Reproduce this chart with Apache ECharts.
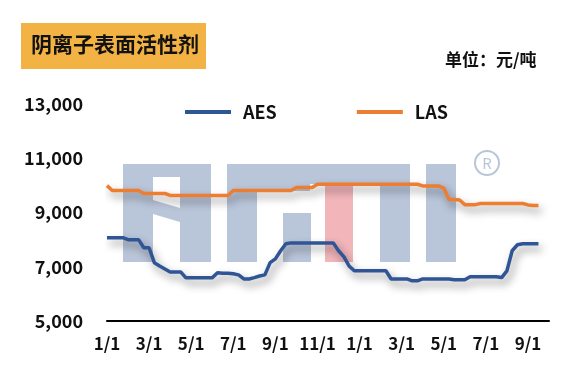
<!DOCTYPE html>
<html><head><meta charset="utf-8">
<script src="https://cdn.jsdelivr.net/npm/echarts@6/dist/echarts.min.js"></script>
<style>html,body{margin:0;padding:0;background:#fff}#c{width:571px;height:369px}</style>
</head><body><div id="c"></div>
<script>
var title = '阴离子表面活性剂';
var unitText = '单位：元/吨';
var seriesNames = ['AES', 'LAS'];
var yTicks = [5000, 7000, 9000, 11000, 13000];
var categories = [
 '1/1','1/8','1/15','1/22','2/1','2/8','2/15','2/22','3/1','3/8','3/15','3/22',
 '4/1','4/8','4/15','4/22','5/1','5/8','5/15','5/22','6/1','6/8','6/15','6/22',
 '7/1','7/8','7/15','7/22','8/1','8/8','8/15','8/22','9/1','9/8','9/15','9/22',
 '10/1','10/8','10/15','10/22','11/1','11/8','11/15','11/22','12/1','12/8','12/15','12/22',
 '1/1','1/8','1/15','1/22','2/1','2/8','2/15','2/22','3/1','3/8','3/15','3/22',
 '4/1','4/8','4/15','4/22','5/1','5/8','5/15','5/22','6/1','6/8','6/15','6/22',
 '7/1','7/8','7/15','7/22','8/1','8/8','8/15','8/22','9/1','9/8','9/15','9/22','10/1'
];
var aes = [
 8070,8070,8070,8070, 8000,8000,8000, 7700,7700, 7150, 7030, 6920,
 6810,6810,6810, 6590,6590,6590,6590,6590,6590, 6780, 6760,6760,6740,6700,
 6550,6550, 6600, 6660, 6700, 7150, 7290, 7590, 7850,
 7880,7880,7880,7880,7880,7880,7880,7880,7880,
 7590, 7370, 7030, 6850,6850,6850,6850,6850,6850,6850,
 6550,6550,6550,6550, 6480,6480, 6550,6550,6550,6550,6550,6550,
 6520,6520,6520, 6630,6630,6630,6630,6630,6630, 6600, 6850, 7590, 7810,
 7850,7850,7850,7850
];
var las = [
 9990, 9810,9810,9810,9810,9810,9810, 9700,9700,9700,9700,9700,
 9630,9630,9630,9630,9630,9630,9630,9630,9630,9630,9630,9630,
 9810,9810,9810,9810,9810,9810,9810,9810,9810,9810,9810,9810,
 9920,9920,9920,9920,
 10040,10040,10040,10040,10040,10040,10040,10040,10040,10040,
 10040,10040,10040,10040,10040,10040,10040,10040,10040,10040,
 9980,9980,9980,9980, 9900, 9480,9480, 9460, 9290,9290,9290,
 9330,9330,9330,9330,9330,9330,9330,9330,9330, 9280, 9260,9260
];

var chart = echarts.init(document.getElementById('c'), null, {renderer:'canvas'});
var wm = '#b9c5d9';
var FONT = '"Noto Sans CJK SC", "Noto Sans", sans-serif';
var shadow = {shadowColor:'rgba(0,0,0,0.45)', shadowBlur:8, shadowOffsetX:3, shadowOffsetY:5};
chart.setOption({
  animation:false,
  backgroundColor:'#fff',
  graphic:[
    {type:'rect', left:21, top:23, shape:{width:185, height:46}, style:{fill:'#f2b244'}, z:1},
    {type:'text', left:31, top:34, style:{text:title, font:'bold 21px '+FONT, fill:'#111'}, z:2},
    {type:'text', left:445, top:51, style:{text:unitText, font:'bold 17px '+FONT, fill:'#111'}, z:2},
    {type:'group', z:-10, silent:true, children:[
      {type:'rect', shape:{x:123,y:164,width:30,height:98}, style:{fill:wm}},
      {type:'rect', shape:{x:180,y:164,width:31,height:98}, style:{fill:wm}},
      {type:'rect', shape:{x:153,y:164,width:27,height:13}, style:{fill:wm}},
      {type:'polygon', shape:{points:[[153,200],[180,208],[180,222],[153,214]]}, style:{fill:wm}},
      {type:'rect', shape:{x:227,y:164,width:30,height:98}, style:{fill:wm}},
      {type:'rect', shape:{x:257,y:164,width:53,height:27}, style:{fill:wm}},
      {type:'rect', shape:{x:283,y:213,width:28,height:49}, style:{fill:wm}},
      {type:'rect', shape:{x:306,y:164,width:104,height:20}, style:{fill:wm}},
      {type:'rect', shape:{x:325,y:184,width:28,height:78}, style:{fill:'#f1b5ba'}},
      {type:'rect', shape:{x:380,y:184,width:30,height:78}, style:{fill:wm}},
      {type:'rect', shape:{x:426,y:164,width:30,height:98}, style:{fill:wm}},
      {type:'circle', shape:{cx:487,cy:163,r:12}, style:{fill:'none', stroke:wm, lineWidth:2}},
      {type:'text', style:{x:487, y:163, text:'R', font:'15px '+FONT, fill:wm, align:'center', verticalAlign:'middle'}}
    ]}
  ],
  legend:{
    data:seriesNames, left:180, top:98, itemWidth:46, itemHeight:4, itemGap:80,
    icon:'rect',
    textStyle:{fontWeight:'bold', fontSize:18, fontFamily:FONT, color:'#111', padding:[0,0,0,7]}
  },
  grid:{left:107, right:22, top:104, bottom:48, containLabel:false},
  xAxis:{
    type:'category', data:categories, boundaryGap:false,
    axisLine:{lineStyle:{color:'#000', width:2}},
    axisTick:{show:false},
    axisLabel:{interval:function(i){return i%8===0;}, margin:14, color:'#111', fontWeight:'bold', fontSize:17, fontFamily:FONT}
  },
  yAxis:{
    type:'value', min:yTicks[0], max:yTicks[yTicks.length-1], interval:2000,
    splitLine:{show:false}, axisLine:{show:false}, axisTick:{show:false},
    axisLabel:{margin:24, color:'#111', fontWeight:'bold', fontSize:18, fontFamily:FONT,
      formatter:function(v){return v.toLocaleString('en-US');}}
  },
  series:[
    {name:seriesNames[0], type:'line', data:aes, showSymbol:false, symbol:'none', color:'#2f5597',
     lineStyle:Object.assign({width:3.5, color:'#2f5597'}, shadow), z:3},
    {name:seriesNames[1], type:'line', data:las, showSymbol:false, symbol:'none', color:'#ed7d31',
     lineStyle:Object.assign({width:3.5, color:'#ed7d31'}, shadow), z:3}
  ]
});
</script></body></html>
